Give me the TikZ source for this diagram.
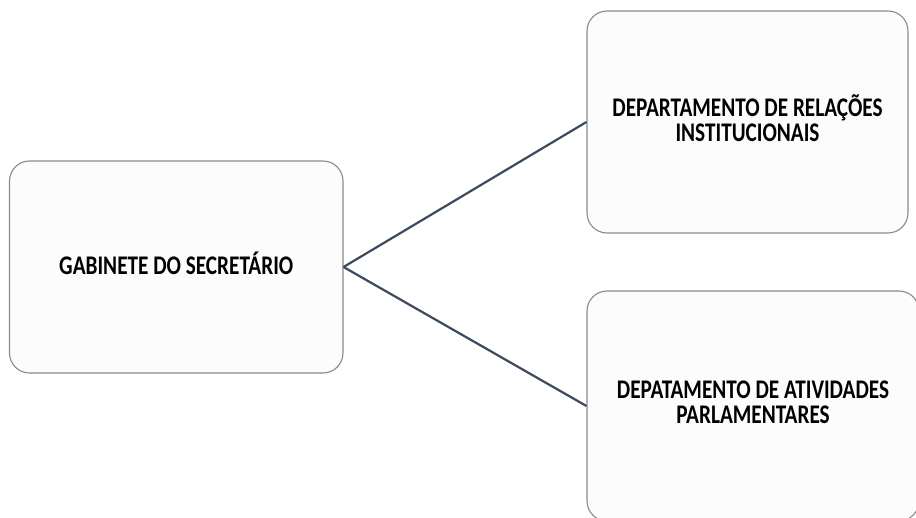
\documentclass[tikz,border=0pt]{standalone}
\usepackage{fontspec}
\usepackage{graphicx}
\setmainfont{Carlito}
\definecolor{boxline}{HTML}{8A8A8A}
\definecolor{boxfill}{HTML}{FCFCFC}
\definecolor{linkline}{HTML}{3C4A5D}
% condensed two-line label
\newcommand\boxlabel[1]{\scalebox{0.79}[1]{\begin{tabular}{@{}c@{}}#1\end{tabular}}}
\tikzset{
  unitbox/.style={draw=boxline, line width=1.1pt, fill=boxfill,
    rounded corners=20pt, inner sep=0pt,
    font=\bfseries\fontsize{26.9}{25.5}\selectfont},
  link/.style={draw=linkline, line width=2.2pt}
}
\begin{document}
\begin{tikzpicture}[x=1pt,y=1pt]
\useasboundingbox (0,0) rectangle (916,517);
\clip (0,0) rectangle (916,517);
\node[unitbox, minimum width=333.5pt, minimum height=212pt] (gab) at (176.25,250)
  {\boxlabel{GABINETE DO SECRETÁRIO}};
\node[unitbox, minimum width=321pt, minimum height=222pt] (rel) at (747.5,395)
  {\boxlabel{DEPARTAMENTO DE RELAÇÕES\\INSTITUCIONAIS}};
\node[unitbox, minimum width=332pt, minimum height=230pt] (ativ) at (753,111)
  {\boxlabel{DEPATAMENTO DE ATIVIDADES\\PARLAMENTARES}};
\draw[link] (gab.east) -- (rel.west);
\draw[link] (gab.east) -- (ativ.west);
\end{tikzpicture}
\end{document}
